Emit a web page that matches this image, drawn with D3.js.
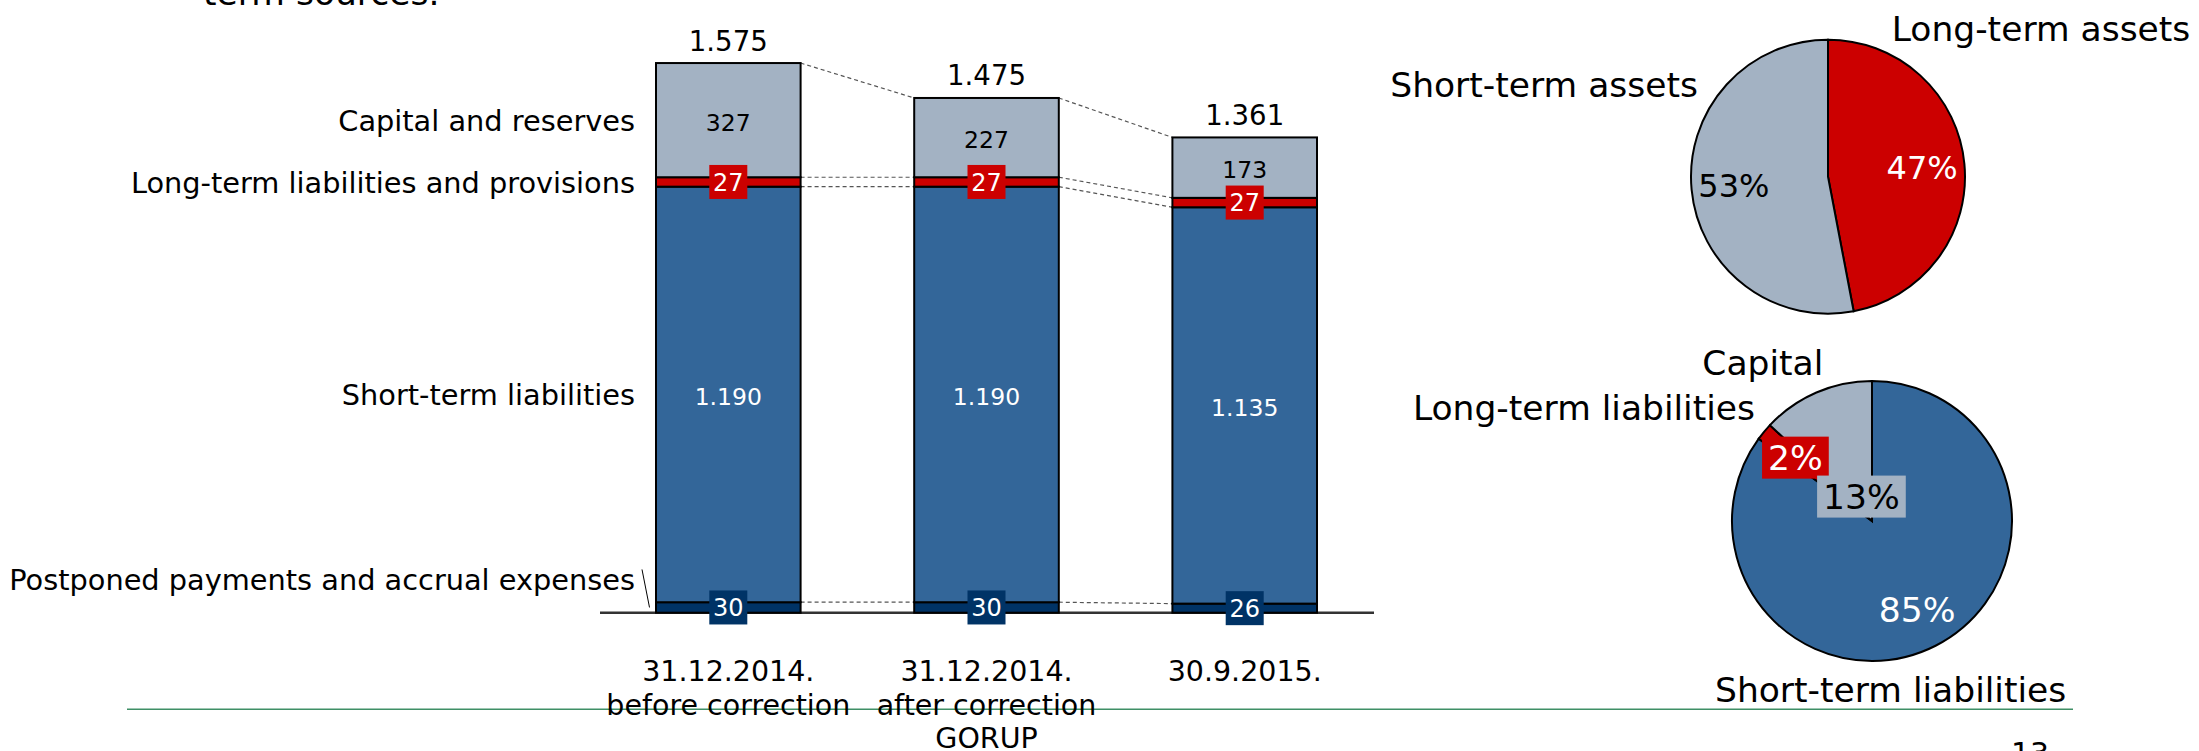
<!DOCTYPE html>
<html>
<head>
<meta charset="utf-8">
<script src="https://cdn.jsdelivr.net/npm/d3@7"></script>
<style>
  body { margin: 0; background: #fff; }
  svg { display: block; font-family: "DejaVu Sans", Verdana, sans-serif; }
</style>
</head>
<body>
<div id="chart"></div>
<script>
// bar chart data (values in millions, shown with "." as thousands separator)
const categories = [
  ["31.12.2014.", "before correction"],
  ["31.12.2014.", "after correction", "GORUP"],
  ["30.9.2015."]
];
const seriesKeys = ["accruals", "shortTerm", "longTerm", "capital"];
const seriesNames = [
  "Postponed payments and accrual expenses",
  "Short-term liabilities",
  "Long-term liabilities and provisions",
  "Capital and reserves"
];
const accruals = [30, 30, 26];
const shortTerm = [1190, 1190, 1135];
const longTerm = [27, 27, 27];
const capital = [327, 227, 173];
const totals = [1575, 1475, 1361];

// pie data (percent)
const assetNames = ["Long-term assets", "Short-term assets"];
const assetShares = [47, 53];
const sourceNames = ["Short-term liabilities", "Long-term liabilities", "Capital"];
const sourceShares = [85, 2, 13];

const W = 2199, H = 751;
const fmt = d3.formatLocale({ decimal: ",", thousands: ".", grouping: [3], currency: ["", ""] }).format(",d");

const svg = d3.select("#chart").append("svg")
  .attr("width", W)
  .attr("height", H);

// slide leftovers: cut title, footer rule, page number
svg.append("text")
  .attr("x", 203).attr("y", 4.5)
  .attr("font-size", 34.5)
  .text("term sources.");

svg.append("line")
  .attr("x1", 127).attr("x2", 2073)
  .attr("y1", 709.3).attr("y2", 709.3)
  .attr("stroke", "#3f8f66")
  .attr("stroke-width", 1.5);

svg.append("text")
  .attr("x", 2011).attr("y", 764)
  .attr("font-size", 30)
  .text("13");

// ---------- stacked bars ----------
const table = categories.map((c, i) => ({
  idx: i,
  accruals: accruals[i],
  shortTerm: shortTerm[i],
  longTerm: longTerm[i],
  capital: capital[i]
}));
const stacked = d3.stack().keys(seriesKeys)(table);

const x = d3.scaleBand()
  .domain(d3.range(categories.length))
  .range([656, 1317])
  .paddingInner(0.44)
  .paddingOuter(0);
const y = d3.scaleLinear()
  .domain([0, 1575])
  .range([612.7, 62.7]);
const bw = x.bandwidth();

const fills = ["#003366", "#336699", "#cc0000", "#a3b2c3"];
const labelKind = ["box", "white", "box", "dark"];

// axis line
svg.append("line")
  .attr("x1", 600).attr("x2", 1374)
  .attr("y1", y(0)).attr("y2", y(0))
  .attr("stroke", "#333")
  .attr("stroke-width", 2.5);

// dashed connectors between bars at every boundary
const conn = svg.append("g")
  .attr("stroke", "#555")
  .attr("stroke-width", 1.2)
  .attr("stroke-dasharray", "4,3");
stacked.forEach(s => {
  for (let i = 0; i < categories.length - 1; i++) {
    conn.append("line")
      .attr("x1", x(i) + bw).attr("y1", y(s[i][1]))
      .attr("x2", x(i + 1)).attr("y2", y(s[i + 1][1]));
  }
});

const bars = svg.append("g");
stacked.forEach((s, k) => {
  bars.append("g")
    .selectAll("rect")
    .data(s)
    .join("rect")
    .attr("x", (d, i) => x(i))
    .attr("y", d => y(d[1]))
    .attr("width", bw)
    .attr("height", d => y(d[0]) - y(d[1]))
    .attr("fill", fills[k])
    .attr("stroke", "#000")
    .attr("stroke-width", 2);
});

// values inside bars
stacked.forEach((s, k) => {
  const g = svg.append("g");
  s.forEach((d, i) => {
    const cx = x(i) + bw / 2;
    const cy = (y(d[0]) + y(d[1])) / 2;
    const v = d[1] - d[0];
    if (labelKind[k] === "box") {
      g.append("rect")
        .attr("x", cx - 19).attr("y", cy - 17)
        .attr("width", 38).attr("height", 34)
        .attr("fill", fills[k]);
      g.append("text")
        .attr("x", cx).attr("y", cy)
        .attr("dy", "0.37em")
        .attr("text-anchor", "middle")
        .attr("font-size", 24)
        .attr("fill", "#fff")
        .text(fmt(v));
    } else {
      g.append("text")
        .attr("x", cx).attr("y", cy + 10.5)
        .attr("text-anchor", "middle")
        .attr("font-size", 23.5)
        .attr("fill", labelKind[k] === "white" ? "#fff" : "#000")
        .text(fmt(v));
    }
  });
});

// totals above bars
svg.append("g")
  .selectAll("text")
  .data(totals)
  .join("text")
  .attr("x", (d, i) => x(i) + bw / 2)
  .attr("y", (d, i) => y(stacked[stacked.length - 1][i][1]) - 12.5)
  .attr("text-anchor", "middle")
  .attr("font-size", 27.6)
  .text(d => fmt(d));

// category labels
const catG = svg.append("g")
  .selectAll("text")
  .data(categories)
  .join("text")
  .attr("x", (d, i) => x(i) + bw / 2)
  .attr("y", 681)
  .attr("text-anchor", "middle")
  .attr("font-size", 28.5);
catG.selectAll("tspan")
  .data(d => d)
  .join("tspan")
  .attr("x", function () { return d3.select(this.parentNode).attr("x"); })
  .attr("dy", (d, j) => j === 0 ? 0 : 33.5)
  .text(d => d);

// series labels on the left (aligned to first bar)
const labelShift = [-28, 0, 0, 0];
const serG = svg.append("g");
stacked.forEach((s, k) => {
  const cy = (y(s[0][0]) + y(s[0][1])) / 2;
  serG.append("text")
    .attr("x", 635)
    .attr("y", cy + 11 + labelShift[k])
    .attr("text-anchor", "end")
    .attr("font-size", 28.8)
    .text(seriesNames[k]);
  if (labelShift[k] !== 0) {
    serG.append("line")
      .attr("x1", x(0) - 14).attr("y1", cy + labelShift[k] - 10)
      .attr("x2", x(0) - 6.5).attr("y2", cy)
      .attr("stroke", "#000")
      .attr("stroke-width", 1);
  }
});

// ---------- pies ----------
function drawPie(cx, cy, r, values, names, colors, opts) {
  const g = svg.append("g").attr("transform", `translate(${cx},${cy})`);
  const arcs = d3.pie().sort(null).value(d => d)(values);
  const arc = d3.arc().innerRadius(0).outerRadius(r);
  g.selectAll("path")
    .data(arcs)
    .join("path")
    .attr("d", arc)
    .attr("fill", (d, i) => colors[i])
    .attr("stroke", "#000")
    .attr("stroke-width", 2);

  arcs.forEach((a, i) => {
    const lr = r * opts.labelRadius[i];
    const c = d3.arc().innerRadius(lr).outerRadius(lr).centroid(a);
    const t = g.append("text")
      .attr("x", c[0]).attr("y", c[1])
      .attr("dy", "0.36em")
      .attr("text-anchor", "middle")
      .attr("font-size", opts.pctSize)
      .attr("fill", opts.pctColor[i])
      .text(a.data + "%");
    if (opts.boxed[i]) {
      const bb = t.node().getBBox();
      g.insert("rect", () => t.node())
        .attr("x", bb.x - 6)
        .attr("y", c[1] - 21)
        .attr("width", bb.width + 12)
        .attr("height", 42)
        .attr("fill", colors[i]);
    }
  });

  names.forEach((n, i) => {
    svg.append("text")
      .attr("x", opts.outer[i][0])
      .attr("y", opts.outer[i][1])
      .attr("text-anchor", opts.outer[i][2])
      .attr("font-size", 34.5)
      .text(n);
  });
}

drawPie(1828, 176.7, 137, assetShares, assetNames, ["#cc0000", "#a3b2c3"], {
  labelRadius: [0.69, 0.69],
  pctSize: 32,
  pctColor: ["#fff", "#000"],
  boxed: [false, false],
  outer: [[1891.7, 40.7, "start"], [1698, 97.3, "end"]]
});

drawPie(1872, 521, 140, sourceShares, sourceNames, ["#336699", "#cc0000", "#a3b2c3"], {
  labelRadius: [0.71, 0.71, 0.19],
  pctSize: 34.5,
  pctColor: ["#fff", "#fff", "#000"],
  boxed: [false, true, true],
  outer: [[1715, 701.7, "start"], [1755, 420, "end"], [1823.3, 375, "end"]]
});
</script>
</body>
</html>
